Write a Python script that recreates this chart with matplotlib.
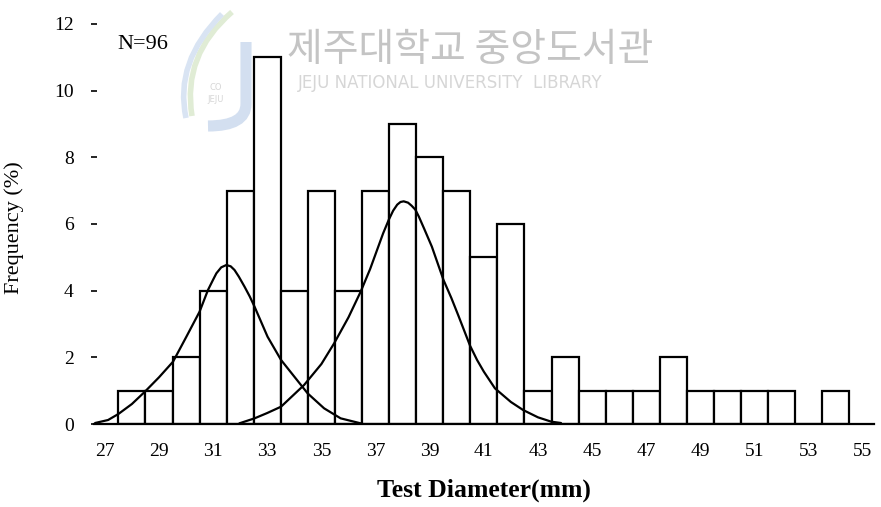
import matplotlib
matplotlib.use("Agg")
import matplotlib.pyplot as plt
from matplotlib.path import Path
from matplotlib.patches import PathPatch

# ---- data ----
diameters = [28, 29, 30, 31, 32, 33, 34, 35, 36, 37, 38, 39, 40, 41, 42,
             43, 44, 45, 46, 47, 48, 49, 50, 51, 52, 53, 54]
frequency = [1, 1, 2, 4, 7, 11, 4, 7, 4, 7, 9, 8, 7, 5, 6,
             1, 2, 1, 1, 1, 2, 1, 1, 1, 1, 0, 1]

curve1_x = [26.64, 27.12, 27.5, 28.0, 28.48, 29.0, 29.52, 30.0, 30.5, 30.81, 31.0, 31.12,
            31.3, 31.49, 31.65, 31.79, 31.95, 32.16, 32.35, 32.53, 33.01, 33.51, 34.0,
            34.49, 35.1, 35.71, 36.45]
curve1_y = [0.03, 0.12, 0.30, 0.60, 0.97, 1.40, 1.87, 2.60, 3.37, 4.02, 4.33, 4.52,
            4.70, 4.77, 4.73, 4.62, 4.42, 4.12, 3.83, 3.52, 2.62, 1.92, 1.42,
            0.92, 0.47, 0.17, 0.02]

curve2_x = [31.97, 32.53, 33.0, 33.51, 34.36, 35.0, 35.47, 36.0, 36.45, 36.8, 37.06, 37.28,
            37.49, 37.65, 37.8, 37.92, 38.04, 38.2, 38.33, 38.47, 38.6, 38.8, 39.08, 39.51,
            39.8, 40.06, 40.49, 40.75, 41.0, 41.41, 42.0, 42.45, 43.0, 43.49, 43.85]
curve2_y = [0.02, 0.17, 0.33, 0.52, 1.17, 1.80, 2.42, 3.20, 3.97, 4.65, 5.23, 5.72,
            6.13, 6.40, 6.58, 6.66, 6.68, 6.64, 6.55, 6.43, 6.22, 5.85, 5.32, 4.32,
            3.78, 3.25, 2.35, 1.92, 1.57, 1.07, 0.66, 0.42, 0.20, 0.07, 0.03]

xticks = [27, 29, 31, 33, 35, 37, 39, 41, 43, 45, 47, 49, 51, 53, 55]
yticks = [0, 2, 4, 6, 8, 10, 12]

serif = ["Liberation Serif", "DejaVu Serif"]

W, H = 881.0, 507.0
fig = plt.figure(figsize=(8.81, 5.07), dpi=100)
ax = fig.add_axes([0.1067, 0.1637, 0.885, 0.8087])


def fp(x, y):
    return (x / W, 1 - y / H)


def faint_path(pts, codes, color, lw):
    p = Path([fp(*q) for q in pts], codes)
    fig.patches.append(PathPatch(p, transform=fig.transFigure, facecolor="none",
                                 edgecolor=color, lw=lw, capstyle="butt", zorder=0))


# watermark (background)
fig.text(470 / W, 1 - 50 / H, "제주대학교 중앙도서관", family=["Noto Sans CJK KR", "DejaVu Sans"],
         fontsize=28, color="#c4c4c4", ha="center", va="center", zorder=0)
fig.text(450 / W, 1 - 83 / H, "JEJU NATIONAL UNIVERSITY  LIBRARY", family=["DejaVu Sans"],
         fontsize=12, color="#d6d6d6", ha="center", va="center", zorder=0)
C3 = Path.CURVE3
# J-shaped bar of the logo
faint_path([(246, 42), (246, 104), (246, 126), (208, 126)],
           [Path.MOVETO, Path.LINETO, C3, C3], "#d3dff0", 8)
# swirls of the logo
faint_path([(232, 12), (182, 55), (192, 116)], [Path.MOVETO, C3, C3], "#e0ecd5", 4)
faint_path([(222, 14), (174, 62), (186, 118)], [Path.MOVETO, C3, C3], "#d9e4f3", 4)
fig.text(216 / W, 1 - 88 / H, "CO", family=["DejaVu Sans"], fontsize=6, color="#d6d6d6",
         ha="center", va="center", zorder=0)
fig.text(216 / W, 1 - 100 / H, "JEJU", family=["DejaVu Sans"], fontsize=6, color="#d6d6d6",
         ha="center", va="center", zorder=0)

ax.bar(diameters, frequency, width=1.0, facecolor="white", edgecolor="black",
       linewidth=1.6, zorder=2)
ax.plot(curve1_x, curve1_y, color="black", lw=1.6, zorder=3,
        solid_capstyle="round", solid_joinstyle="round")
ax.plot(curve2_x, curve2_y, color="black", lw=1.6, zorder=3,
        solid_capstyle="round", solid_joinstyle="round")

ax.set_xlim(26.6, 55.4)
ax.set_ylim(0, 12.3)
ax.patch.set_alpha(0)

for s in ["top", "right", "left"]:
    ax.spines[s].set_visible(False)
ax.spines["bottom"].set_linewidth(1.6)

ax.set_xticks(xticks)
ax.set_xticklabels([str(v) for v in xticks], family=serif, fontsize=14)
ax.set_yticks(yticks)
ax.set_yticklabels([str(v) for v in yticks], family=serif, fontsize=14)
ax.tick_params(axis="x", length=0, pad=14)
ax.tick_params(axis="y", direction="inout", length=5, width=1.2, pad=12)

ax.set_xlabel("Test Diameter(mm)", family=serif, fontsize=18.5, fontweight="bold")
ax.xaxis.set_label_coords(0.5, -0.132)
ax.set_ylabel("Frequency (%)", family=serif, fontsize=16)
ax.yaxis.set_label_coords(-0.09, 0.478)

ax.text(27.45, 11.38, "N=96", family=serif, fontsize=16, ha="left", va="center", zorder=4)

fig.savefig("out.png", dpi=100)
